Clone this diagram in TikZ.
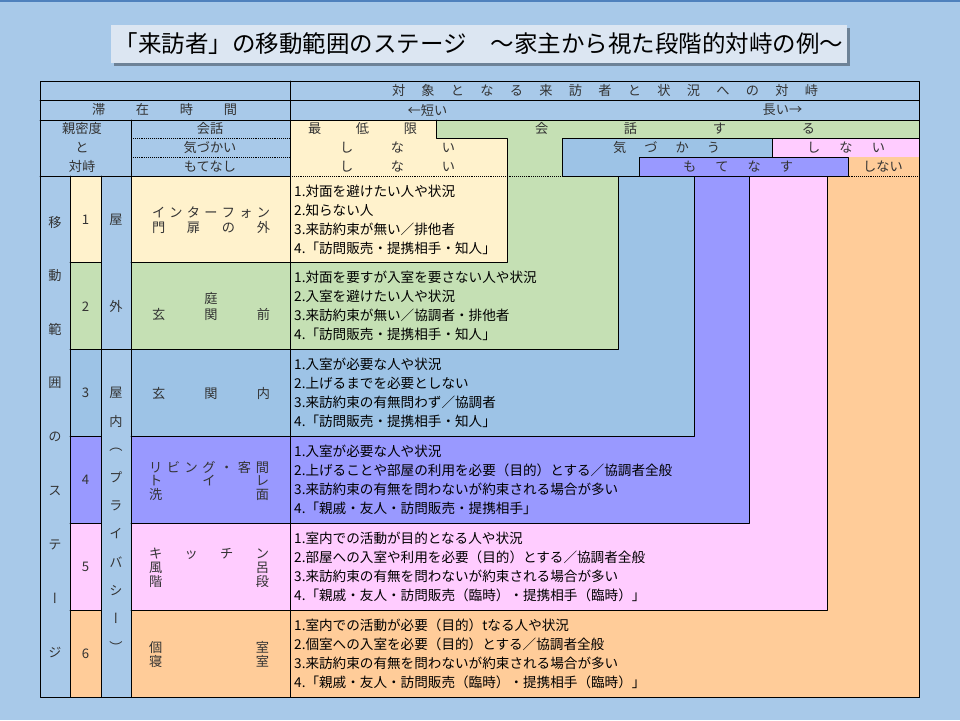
\documentclass[tikz,border=0pt]{standalone}
\usepackage{fontspec}
\setmainfont{Noto Sans CJK JP}
\newfontfamily\vjp[RawFeature=+vert]{Noto Sans CJK JP}
\usepackage{pgf,tikz}
\usetikzlibrary{arrows}
\definecolor{a8c9e9}{HTML}{A8C9E9}
\definecolor{4f81bd}{HTML}{4F81BD}
\definecolor{dce6f2}{HTML}{DCE6F2}
\definecolor{9dc3e6}{HTML}{9DC3E6}
\definecolor{fff2cc}{HTML}{FFF2CC}
\definecolor{c5e0b4}{HTML}{C5E0B4}
\definecolor{9999ff}{HTML}{9999FF}
\definecolor{ffccff}{HTML}{FFCCFF}
\definecolor{ffcc99}{HTML}{FFCC99}
\makeatletter
\newcommand\spreadtxt[2]{\makebox[#1pt][s]{\def\spsep{}\@tfor\spch:=#2\do{\spsep\spch\def\spsep{\hfill}}}}
\makeatother

\begin{document}
\begin{tikzpicture}[line cap=round,line join=round,x=1pt,y=-1pt,
  lbl/.style={font=\fontsize{13.2}{14}\selectfont,text=black!80,inner sep=0pt},
  vlbl/.style={font=\vjp\fontsize{13.2}{14}\selectfont,text=black!80,inner sep=0pt},
  desc/.style={font=\fontsize{13.6}{15}\selectfont,anchor=west,inner sep=0pt},
  grid/.style={line width=0.9pt},
  dots/.style={densely dotted,line width=0.9pt,line cap=butt}]
\useasboundingbox (0,0) rectangle (960,720);
\fill[a8c9e9] (0,0) rectangle (960,720);
\fill[4f81bd] (0,0) rectangle (960,1.5);
\fill[black,opacity=0.35] (114,28) rectangle (850,66);
\fill[dce6f2] (111,25) rectangle (847,63);
\node[font=\fontsize{23.5}{26}\selectfont,inner sep=0pt] (title) at (479,44) {「来訪者」の移動範囲のステージ　～家主から視た段階的対峙の例～};
\foreach \c/\xr/\yb in {ffcc99/919/697,ffccff/827/610.7,9999ff/749/523.7,9dc3e6/694/436.7,c5e0b4/618/349.7,fff2cc/507/262.8}
  {\fill[\c] (290,176) rectangle (\xr,\yb);
   \draw[grid] (\xr,176) -- (\xr,\yb) -- (290,\yb);}
\foreach \c [count=\i] in {fff2cc,c5e0b4,9dc3e6,9999ff,ffccff,ffcc99}
  {\fill[\c] (70,{176+86.83*(\i-1)}) rectangle (101,{176+86.83*\i});
   \fill[\c] (131,{176+86.83*(\i-1)}) rectangle (290,{176+86.83*\i});}
\fill[c5e0b4] (290,120) rectangle (919,176);
\fill[fff2cc] (290,120) -- (436,120) -- (436,138) -- (507,138) -- (507,176) -- (290,176) -- cycle;
\draw[grid] (436,120) -- (436,138) -- (507,138) -- (507,176);
\filldraw[grid,fill=9dc3e6] (562,176) -- (562,138) -- (772,138) -- (772,157) -- (639,157) -- (639,176) -- cycle;
\filldraw[grid,fill=ffccff] (772,138) rectangle (919,157);
\fill[ffcc99] (848,157) rectangle (919,176);
\draw[dots] (290,176) -- (919,176);
\filldraw[grid,fill=9999ff] (639,157) rectangle (848,176);
\draw[grid] (40,81) rectangle (919,697);
\draw[grid] (40,100) -- (919,100);
\draw[grid] (40,120) -- (919,120);
\draw[grid] (40,176) -- (290,176);
\draw[grid] (290,81) -- (290,697);
\draw[grid] (131,120) -- (131,697);
\draw[grid] (70,176) -- (70,697);
\draw[grid] (101,176) -- (101,697);
\draw[grid] (101,349.7) -- (131,349.7);
\draw[dots] (131,138) -- (290,138);
\draw[dots] (131,157) -- (290,157);
\foreach \i in {1,...,5}
  {\draw[grid] (70,{176+86.83*\i}) -- (101,{176+86.83*\i});
   \draw[grid] (131,{176+86.83*\i}) -- (290,{176+86.83*\i});}
\node[lbl] (h1) at (605,90.5) {\spreadtxt{426}{対象となる来訪者と状況への対峙}};
\node[lbl] (h2) at (164.5,110) {\spreadtxt{145}{滞在時間}};
\node[lbl] (short) at (427.5,110) {←短い};
\node[lbl] (long) at (782.5,110) {長い→};
\node[lbl] (int1) at (82,129) {親密度};
\node[lbl] (int2) at (82,147.5) {と};
\node[lbl] (int3) at (82,166.5) {対峙};
\node[lbl] (k1) at (210,129) {会話};
\node[lbl] (k2) at (210,147.5) {気づかい};
\node[lbl] (k3) at (210,166.5) {もてなし};
\node[lbl] (c1) at (362.5,129) {\spreadtxt{109}{最低限}};
\node[lbl] (c2) at (675,129) {\spreadtxt{280}{会話する}};
\node[lbl] (c3) at (397.5,147.5) {\spreadtxt{115}{しない}};
\node[lbl] (c4) at (666.5,147.5) {\spreadtxt{107}{気づかう}};
\node[lbl] (c5) at (846,147.5) {\spreadtxt{78}{しない}};
\node[lbl] (c6) at (397.5,166.5) {\spreadtxt{115}{しない}};
\node[lbl] (c7) at (738,166.5) {\spreadtxt{110}{もてなす}};
\node[lbl] (c8) at (883,166.5) {しない};
\foreach \c [count=\i] in {移,動,範,囲,の,ス,テ,ー,ジ}
  \node[vlbl] (st\i) at (55,{222+53.75*(\i-1)}) {\c};
\node[vlbl] (out1) at (116,219.5) {屋};
\node[vlbl] (out2) at (116,306.5) {外};
\foreach \c [count=\i] in {屋,内,（,プ,ラ,イ,バ,シ,ー,）}
  \node[vlbl] (pv\i) at (116,{393+28.2*(\i-1)}) {\c};
\foreach \i in {1,...,6}
  \node[lbl] (num\i) at (85.5,{132.6+86.83*\i}) {\i};
\node[lbl] (p1a) at (211,212.5) {\spreadtxt{118}{インターフォン}};
\node[lbl] (p1b) at (211,227.5) {\spreadtxt{118}{門扉の外}};
\node[lbl] (p2a) at (211,299) {庭};
\node[lbl] (p2b) at (211,314) {\spreadtxt{118}{玄関前}};
\node[lbl] (p3a) at (211,393.5) {\spreadtxt{118}{玄関内}};
\node[lbl] (p4a) at (209,467) {\spreadtxt{120}{リビング・客間}};
\node[lbl] (p4b) at (209,480.5) {\spreadtxt{120}{トイレ}};
\node[lbl] (p4c) at (209,494) {\spreadtxt{120}{洗面}};
\node[lbl] (p5a) at (209,554) {\spreadtxt{120}{キッチン}};
\node[lbl] (p5b) at (209,567.5) {\spreadtxt{120}{風呂}};
\node[lbl] (p5c) at (209,581) {\spreadtxt{120}{階段}};
\node[lbl] (p6a) at (209,647) {\spreadtxt{120}{個室}};
\node[lbl] (p6b) at (209,661) {\spreadtxt{120}{寝室}};
\foreach \i/\ta/\tb/\tc/\td in {
  1/{1.対面を避けたい人や状況}/{2.知らない人}/{3.来訪約束が無い／排他者}/{4.「訪問販売・提携相手・知人」},
  2/{1.対面を要すが入室を要さない人や状況}/{2.入室を避けたい人や状況}/{3.来訪約束が無い／協調者・排他者}/{4.「訪問販売・提携相手・知人」},
  3/{1.入室が必要な人や状況}/{2.上げるまでを必要としない}/{3.来訪約束の有無問わず／協調者}/{4.「訪問販売・提携相手・知人」},
  4/{1.入室が必要な人や状況}/{2.上げることや部屋の利用を必要（目的）とする／協調者全般}/{3.来訪約束の有無を問わないが約束される場合が多い}/{4.「親戚・友人・訪問販売・提携相手」},
  5/{1.室内での活動が目的となる人や状況}/{2.部屋への入室や利用を必要（目的）とする／協調者全般}/{3.来訪約束の有無を問わないが約束される場合が多い}/{4.「親戚・友人・訪問販売（臨時）・提携相手（臨時）」},
  6/{1.室内での活動が必要（目的）tなる人や状況}/{2.個室への入室を必要（目的）とする／協調者全般}/{3.来訪約束の有無を問わないが約束される場合が多い}/{4.「親戚・友人・訪問販売（臨時）・提携相手（臨時）」}}
  {\node[desc] (d\i-1) at (294,{132.6+86.83*\i-28.5}) {\ta};
   \node[desc] (d\i-2) at (294,{132.6+86.83*\i-9.5}) {\tb};
   \node[desc] (d\i-3) at (294,{132.6+86.83*\i+9.5}) {\tc};
   \node[desc] (d\i-4) at (294,{132.6+86.83*\i+28.5}) {\td};}
\end{tikzpicture}
\end{document}
